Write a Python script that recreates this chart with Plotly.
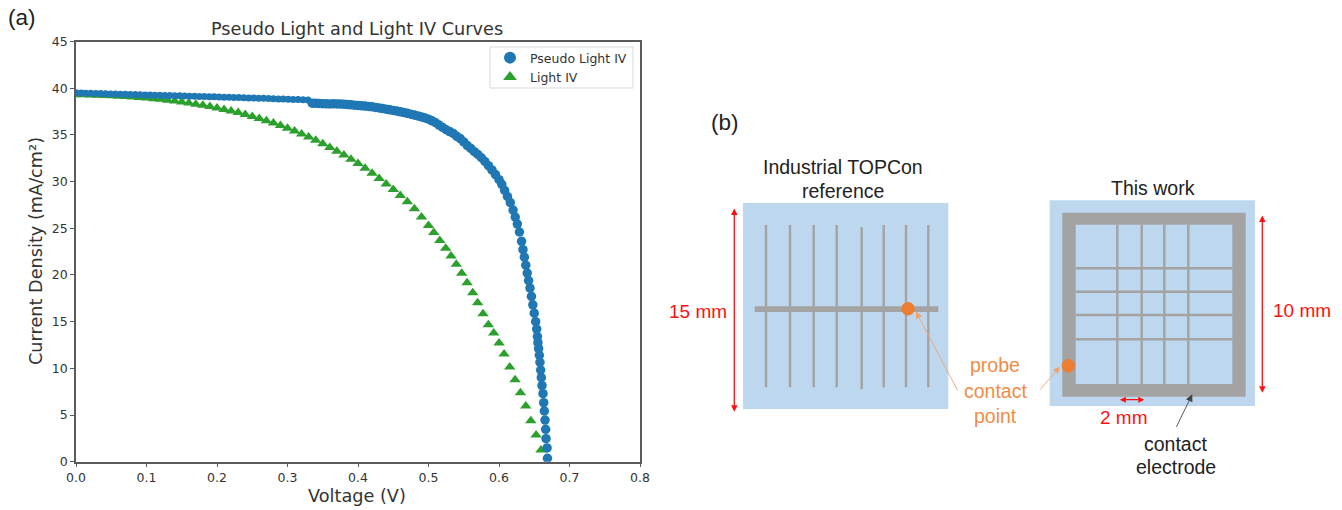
import plotly.graph_objects as go

W, H = 1342, 510

# ---------- Panel (a) data ----------
pseudo_low_v = [0.000, 0.007, 0.014, 0.021, 0.028, 0.035, 0.042, 0.049, 0.056, 0.063, 0.070, 0.077, 0.084, 0.091,
                0.098, 0.105, 0.112, 0.119, 0.126, 0.133, 0.140, 0.147, 0.154, 0.161, 0.168, 0.175, 0.182, 0.189,
                0.196, 0.203, 0.210, 0.217, 0.224, 0.231, 0.238, 0.245, 0.252, 0.259, 0.266, 0.273, 0.280, 0.287,
                0.294, 0.301, 0.308, 0.315, 0.322, 0.329]
pseudo_low_j = [39.50, 39.48, 39.47, 39.45, 39.44, 39.42, 39.41, 39.39, 39.38, 39.36, 39.35, 39.33, 39.32, 39.30,
                39.28, 39.27, 39.25, 39.24, 39.22, 39.21, 39.19, 39.18, 39.16, 39.15, 39.13, 39.12, 39.10, 39.08,
                39.07, 39.05, 39.04, 39.02, 39.01, 38.99, 38.97, 38.96, 38.94, 38.92, 38.91, 38.89, 38.87, 38.85,
                38.84, 38.82, 38.80, 38.78, 38.76, 38.74]
pseudo_high_v = [0.335, 0.340, 0.345, 0.350, 0.355, 0.360, 0.365, 0.370, 0.375, 0.380, 0.385, 0.390,
                 0.395, 0.400, 0.405, 0.410, 0.415, 0.420, 0.425, 0.430, 0.435, 0.440, 0.445, 0.450,
                 0.455, 0.460, 0.465, 0.470, 0.475, 0.480, 0.485, 0.490, 0.495, 0.500, 0.505, 0.510,
                 0.515, 0.520, 0.525, 0.530, 0.535, 0.540, 0.545, 0.550, 0.555, 0.560, 0.565, 0.570,
                 0.575, 0.580, 0.585, 0.590, 0.595, 0.600, 0.604, 0.608, 0.612, 0.616, 0.620, 0.623,
                 0.626, 0.629, 0.632, 0.634, 0.636, 0.638, 0.640, 0.642, 0.644, 0.646, 0.648, 0.650,
                 0.652, 0.6535, 0.6545, 0.6552, 0.6562, 0.6572, 0.6581, 0.6591, 0.6600, 0.6610,
                 0.6624, 0.6634, 0.6643, 0.6653, 0.6662, 0.6667, 0.6682, 0.6687]
pseudo_high_j = [38.40, 38.38, 38.36, 38.34, 38.33, 38.32, 38.33, 38.31, 38.30, 38.28, 38.25, 38.22,
                 38.18, 38.15, 38.11, 38.08, 38.04, 38.00, 37.94, 37.88, 37.82, 37.75, 37.68, 37.62,
                 37.55, 37.47, 37.39, 37.31, 37.22, 37.12, 37.03, 36.92, 36.82, 36.68, 36.50, 36.30,
                 36.05, 35.80, 35.55, 35.35, 35.15, 34.85, 34.60, 34.25, 33.85, 33.55, 33.20, 32.90,
                 32.55, 32.15, 31.70, 31.25, 30.75, 30.20, 29.70, 29.05, 28.40, 27.75, 26.95, 26.20,
                 25.45, 24.60, 23.60, 22.70, 21.90, 21.05, 20.20, 19.40, 18.60, 17.70, 16.80, 15.90,
                 15.00, 14.20, 13.40, 12.75, 12.10, 11.40, 10.65, 9.82, 9.00, 8.14,
                 7.29, 6.32, 5.43, 4.46, 3.47, 2.47, 1.47, 0.36]
light_v = [0.000, 0.010, 0.020, 0.030, 0.040, 0.050, 0.060, 0.070, 0.080, 0.090, 0.100, 0.110, 0.120,
           0.130, 0.140, 0.150, 0.160, 0.170, 0.180, 0.190, 0.200, 0.210, 0.220, 0.230, 0.240, 0.250,
           0.260, 0.270, 0.280, 0.290, 0.300, 0.310, 0.320, 0.330, 0.340, 0.350, 0.360, 0.370, 0.380,
           0.390, 0.400, 0.410, 0.420, 0.430, 0.440, 0.450, 0.460, 0.470, 0.480, 0.490, 0.500, 0.5075,
           0.516, 0.5244, 0.5319, 0.5394, 0.5471, 0.5547, 0.5627, 0.5697, 0.5773, 0.5849, 0.5925, 0.6001,
           0.6072, 0.6152, 0.6228, 0.6304, 0.6380, 0.6451, 0.6526, 0.6596]
light_j = [39.30, 39.29, 39.27, 39.25, 39.22, 39.19, 39.15, 39.11, 39.06, 39.01, 38.95, 38.88, 38.81,
           38.72, 38.62, 38.52, 38.41, 38.29, 38.17, 38.03, 37.89, 37.73, 37.56, 37.39, 37.19, 36.98,
           36.75, 36.52, 36.27, 36.00, 35.72, 35.42, 35.10, 34.76, 34.42, 34.05, 33.66, 33.26, 32.84,
           32.40, 31.93, 31.42, 30.90, 30.34, 29.75, 29.15, 28.50, 27.83, 27.10, 26.20, 25.30, 24.55,
           23.70, 22.85, 22.03, 21.14, 20.17, 19.17, 18.10, 17.03, 15.85, 14.67, 13.78, 12.71,
           11.53, 10.14, 8.78, 7.39, 5.96, 4.39, 2.86, 1.25]
x_ticks = [0.0, 0.1, 0.2, 0.3, 0.4, 0.5, 0.6, 0.7, 0.8]
x_tick_labels = ["0.0", "0.1", "0.2", "0.3", "0.4", "0.5", "0.6", "0.7", "0.8"]
y_ticks = [0, 5, 10, 15, 20, 25, 30, 35, 40, 45]

BLUE, GREEN = "#1f77b4", "#2ca02c"
LIGHT, GRAY, ORANGE, RED = "#BDD7EE", "#A3A3A3", "#ED7D31", "#FF1010"
PAPER_ORANGE = "#F4A26B"
DJ, LS = "DejaVu Sans", "Liberation Sans"
INK = "#333333"

fig = go.Figure()
fig.add_trace(go.Scatter(x=light_v, y=light_j, mode="markers", name="Light IV", legendrank=2,
                         marker=dict(symbol="triangle-up", size=10, color=GREEN)))
fig.add_trace(go.Scatter(x=pseudo_low_v, y=pseudo_low_j, mode="markers", showlegend=False,
                         marker=dict(size=7, color=BLUE)))
fig.add_trace(go.Scatter(x=pseudo_high_v, y=pseudo_high_j, mode="markers", name="Pseudo Light IV", legendrank=1,
                         marker=dict(size=9.5, color=BLUE)))

axis_common = dict(showgrid=False, zeroline=False, mirror=True, showline=True, linecolor="#5a5a5a", linewidth=1.5,
                   ticks="outside", ticklen=4, tickwidth=1, tickcolor="#5a5a5a", automargin=False,
                   tickfont=dict(family=DJ, size=12.5, color=INK))
fig.update_layout(
    width=W, height=H, autosize=False, margin=dict(l=0, r=0, t=0, b=0),
    paper_bgcolor="white", plot_bgcolor="white",
    xaxis=dict(domain=[76 / W, 640 / W], range=[0, 0.8], tickvals=x_ticks, ticktext=x_tick_labels,
               anchor="y", **axis_common),
    yaxis=dict(domain=[1 - 461.7 / H, 1 - 41.5 / H], range=[0, 45], tickvals=y_ticks, anchor="x", **axis_common),
    legend=dict(x=490 / W, y=1 - 43 / H, xanchor="left", yanchor="top", bgcolor="rgba(0,0,0,0)",
                borderwidth=0, font=dict(family=DJ, size=12.5, color=INK),
                itemsizing="constant", tracegroupgap=0),
    showlegend=True,
)

# Schematic panel (b) and free labels are placed in page pixels, mapped onto paper space
def px(x): return x / W
def py(y): return 1 - y / H

shapes = []
def rect(x0, y0, x1, y1, color):
    shapes.append(dict(type="rect", xref="paper", yref="paper", x0=px(x0), y0=py(y0), x1=px(x1), y1=py(y1),
                       fillcolor=color, line=dict(width=0), layer="above"))
def dot(cx, cy, r, color):
    shapes.append(dict(type="circle", xref="paper", yref="paper", x0=px(cx - r), y0=py(cy - r), x1=px(cx + r), y1=py(cy + r),
                       fillcolor=color, line=dict(width=0), layer="above"))

# legend frame
shapes.append(dict(type="rect", xref="paper", yref="paper", x0=px(490), y0=py(47), x1=px(633), y1=py(88),
                   fillcolor="white", line=dict(width=1, color="#d8d8d8"), layer="above"))

# left cell
rect(743, 203, 948.3, 409, LIGHT)
for fx, top, bottom in [(766, 225, 387.3), (790, 225, 387.3), (813.7, 225, 387.3), (836.7, 225, 387.3),
                        (861.7, 227, 389.3), (883.7, 225, 387.3), (906, 225, 387.3), (928.3, 225, 387.3)]:
    rect(fx - 1.2, top, fx + 1.2, bottom, GRAY)
rect(754.7, 306.3, 938.3, 312, GRAY)
dot(908, 308.7, 6.7, ORANGE)

# right cell
rect(1049.7, 200.3, 1255, 406, LIGHT)
rect(1062.3, 212.7, 1245.7, 396.7, GRAY)
rect(1075.7, 224.7, 1232.3, 384, LIGHT)
for gx in [1117.3, 1141.7, 1164.3, 1188.3]:
    rect(gx - 1.2, 224.7, gx + 1.2, 384, GRAY)
for gy in [268.3, 291.7, 315, 339.3]:
    rect(1075.7, gy - 1.2, 1232.3, gy + 1.2, GRAY)
dot(1068.3, 365.7, 6.7, ORANGE)
fig.update_layout(shapes=shapes)

def text(x, y, s, size=19, color="#222222", family=LS, angle=0):
    fig.add_annotation(x=px(x), y=py(y), text=s, xref="paper", yref="paper", showarrow=False, xanchor="center",
                       yanchor="middle", textangle=angle, font=dict(family=family, size=size, color=color))
def arrow(x0, y0, x1, y1, color, width=1, both=False, head=2, hs=1):
    fig.add_annotation(x=px(x1), y=py(y1), ax=x0 - x1, ay=y0 - y1, xref="paper", yref="paper", axref="pixel", ayref="pixel",
                       text="", showarrow=True, arrowhead=head, arrowsize=hs, arrowwidth=width, arrowcolor=color,
                       arrowside="end+start" if both else "end", standoff=0, startstandoff=0)

text(21.5, 18, "(a)", size=22.5)
text(725, 122, "(b)", size=22.5)
text(842.5, 167.3, "Industrial TOPCon", size=19.5)
text(842.5, 190.7, "reference", size=19.5)
text(1153.3, 188.3, "This work", size=19.5)
text(697.7, 311.7, "15 mm", color=RED)
text(1302.3, 310, "10 mm", color=RED)
text(1124.3, 417.3, "2 mm", color=RED)
text(995, 364.5, "probe", color="#F28C45", size=19.5)
text(995, 390.5, "contact", color="#F28C45", size=19.5)
text(995, 416, "point", color="#F28C45", size=19.5)
text(1175.7, 444.3, "contact", size=19.5)
text(1175.7, 467.3, "electrode", size=19.5)
arrow(734.3, 207, 734.3, 411.7, RED, width=1.3, both=True)
arrow(1262.3, 214, 1262.3, 392.7, RED, width=1.3, both=True)
arrow(1118.3, 399.7, 1144.3, 399.7, RED, width=1.2, both=True)
arrow(958.3, 391.7, 916, 311.7, PAPER_ORANGE, width=0.9, hs=1.5)
arrow(1039, 391, 1060, 366.7, PAPER_ORANGE, width=0.9, hs=1.5)
arrow(1175.7, 428.3, 1192.3, 394.3, "#444444", width=0.9, hs=1.6)

text(357, 495.5, "Voltage (V)", size=17.7, color=INK, family=DJ)
text(36, 251, "Current Density (mA/cm²)", size=17.7, color=INK, family=DJ, angle=-90)
text(357, 29, "Pseudo Light and Light IV Curves", size=17.7, color=INK, family=DJ)

fig.write_html("out.html", post_script="document.body.style.margin='0';", config={"displayModeBar": False})
